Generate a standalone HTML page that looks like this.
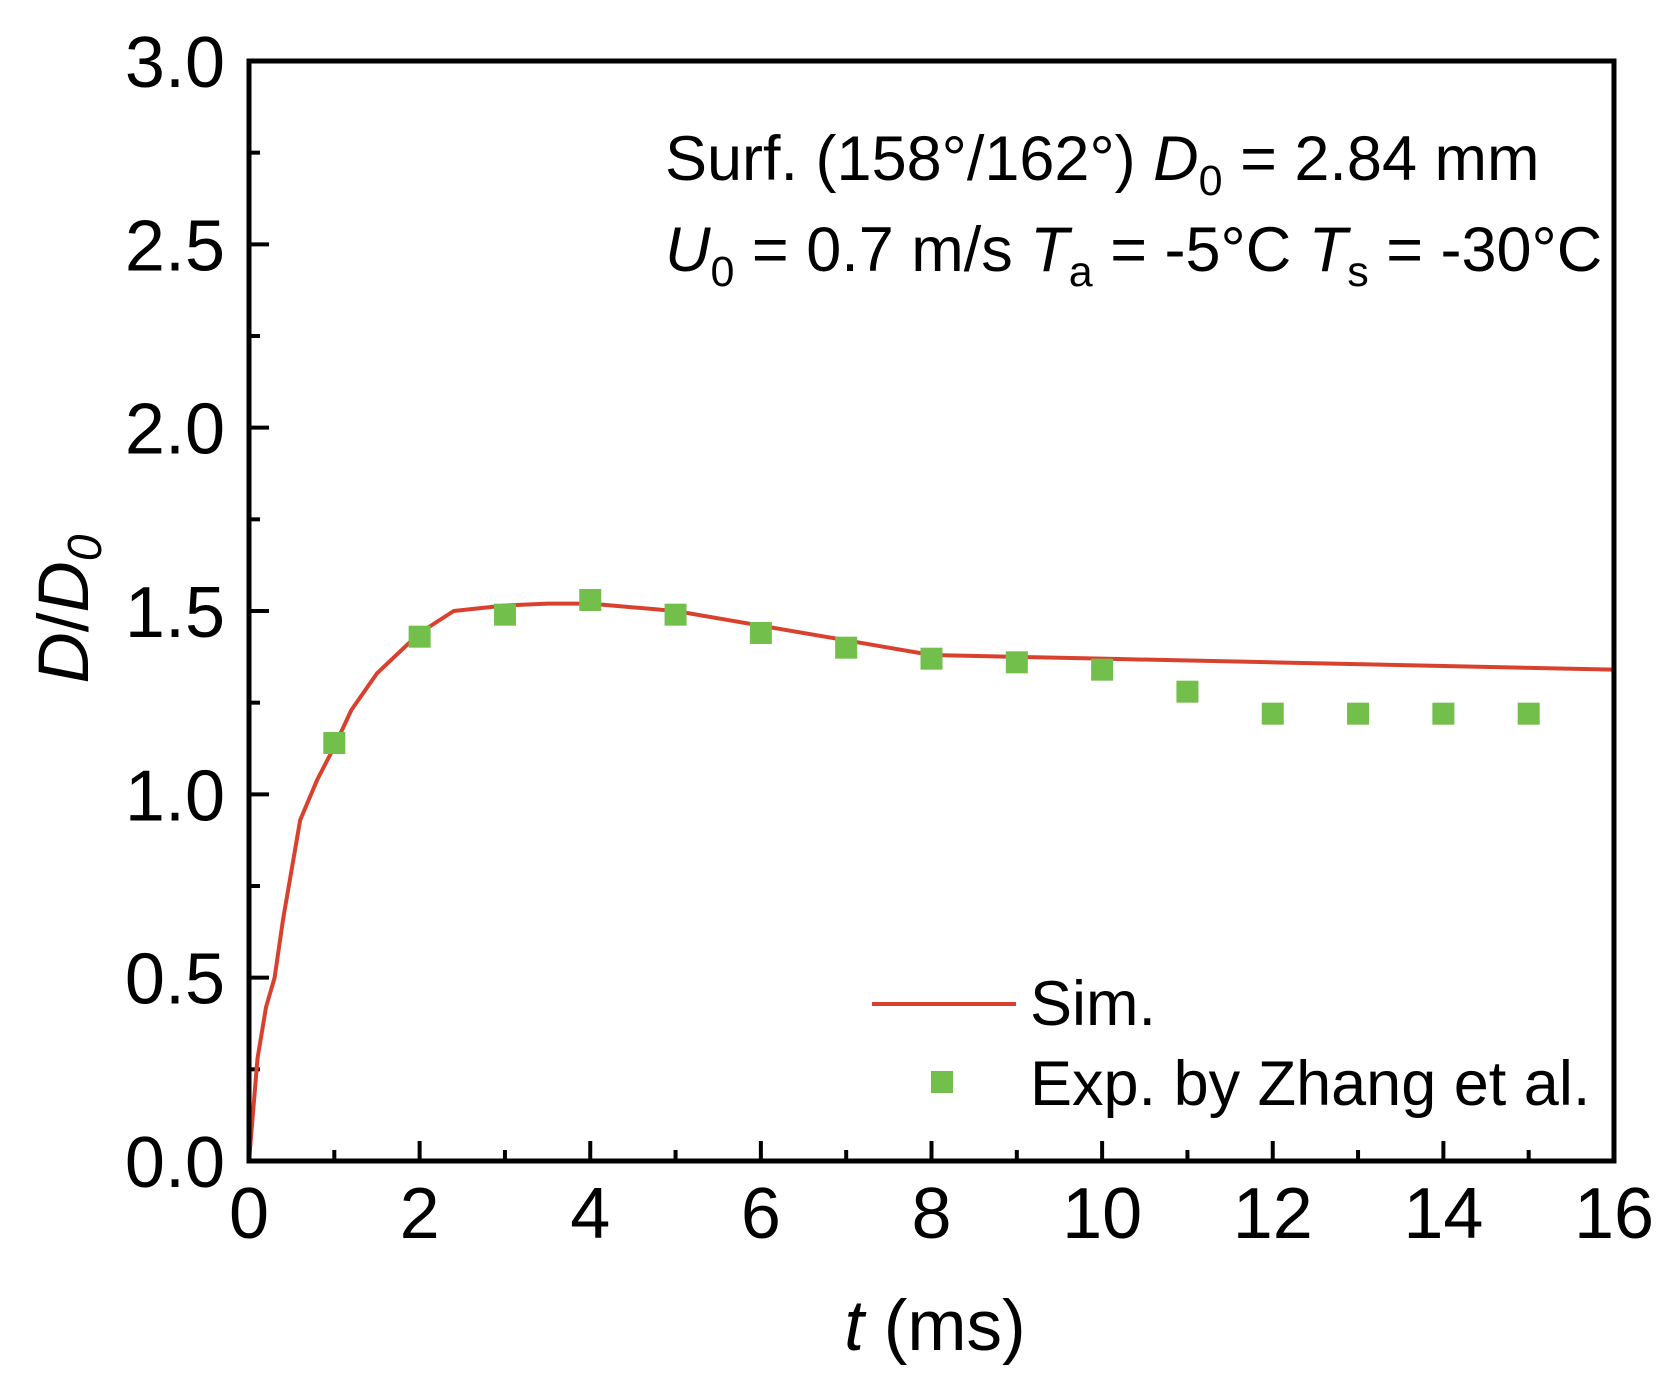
<!DOCTYPE html>
<html><head><meta charset="utf-8"><style>
body{margin:0;background:#fff}
svg{display:block;font-family:"Liberation Sans",Arial,sans-serif}
</style></head><body>
<svg id="chart" width="1666" height="1389" viewBox="0 0 1666 1389"></svg>
<script>
const simT=[0,0.1,0.2,0.3,0.4,0.6,0.8,1.0,1.2,1.5,2,2.4,3,3.5,4,5,6,7,7.5,8,9,10,12,14,16];
const simV=[0,0.28,0.42,0.5,0.66,0.93,1.04,1.13,1.23,1.33,1.44,1.50,1.515,1.52,1.52,1.50,1.46,1.42,1.40,1.38,1.375,1.37,1.36,1.35,1.34];
const expT=[1,2,3,4,5,6,7,8,9,10,11,12,13,14,15];
const expV=[1.14,1.43,1.49,1.53,1.49,1.44,1.40,1.37,1.36,1.34,1.28,1.22,1.22,1.22,1.22];
const xTicks=[0,2,4,6,8,10,12,14,16];
const yTicks=[0,0.5,1.0,1.5,2.0,2.5,3.0];
const X0=249,X1=1614,Y0=1161,Y1=61;
const sx=t=>X0+(t/16)*(X1-X0);
const sy=v=>Y0-(v/3)*(Y0-Y1);
const svg=document.getElementById('chart');
const NS='http://www.w3.org/2000/svg';
function mk(tag,attrs,parent){const e=document.createElementNS(NS,tag);for(const k in attrs)e.setAttribute(k,attrs[k]);(parent||svg).appendChild(e);return e;}
for(let t=0;t<=16;t++){const major=t%2===0;const e=mk('line',{x1:sx(t),x2:sx(t),y1:Y0,y2:Y0-(major?20:11),stroke:'#000','stroke-width':4});

}
for(let i=0;i<=12;i++){const v=i*0.25;const major=i%2===0;const e=mk('line',{x1:X0,x2:X0+(major?20:11),y1:sy(v),y2:sy(v),stroke:'#000','stroke-width':4});

}
xTicks.forEach(t=>{const e=mk('text',{x:sx(t),y:1238,'font-size':72,'text-anchor':'middle'});e.textContent=String(t);

});
yTicks.forEach(v=>{const e=mk('text',{x:225,y:sy(v)+26,'font-size':72,'text-anchor':'end'});e.textContent=v.toFixed(1);

});
const sim=mk('polyline',{points:simT.map((t,i)=>sx(t)+','+sy(simV[i])).join(' '),fill:'none',stroke:'#d9412f','stroke-width':4,'stroke-linejoin':'round'});


expT.forEach((t,i)=>{const r=mk('rect',{x:sx(t)-11,y:sy(expV[i])-11,width:22,height:22,fill:'#72bf4c'});

});
const fr=mk('rect',{x:X0,y:Y1,width:X1-X0,height:Y0-Y1,fill:'none',stroke:'#000','stroke-width':5});


</script>
<svg style="position:absolute;left:0;top:0" width="1666" height="1389">
<g font-family="Liberation Sans, Arial, sans-serif" fill="#000">
<text x="665" y="180" font-size="63">Surf. (158°/162°) <tspan font-style="italic">D</tspan><tspan font-size="43" dy="15">0</tspan><tspan dy="-15"> = 2.84 mm</tspan></text>
<text x="665" y="271" font-size="63"><tspan font-style="italic">U</tspan><tspan font-size="43" dy="15">0</tspan><tspan dy="-15"> = 0.7 m/s </tspan><tspan font-style="italic">T</tspan><tspan font-size="43" dy="15">a</tspan><tspan dy="-15"> = -5°C </tspan><tspan font-style="italic">T</tspan><tspan font-size="43" dy="15">s</tspan><tspan dy="-15"> = -30°C</tspan></text>
<line x1="872" y1="1004" x2="1016" y2="1004" stroke="#d9412f" stroke-width="4"/>
<text x="1030" y="1025" font-size="63">Sim.</text>
<rect x="931" y="1071" width="22" height="22" fill="#72bf4c"/>
<text x="1030" y="1105" font-size="63">Exp. by Zhang et al.</text>
<text x="935" y="1350" font-size="71" text-anchor="middle"><tspan font-style="italic">t</tspan> (ms)</text>
<text transform="translate(88,609) rotate(-90)" font-size="71" text-anchor="middle"><tspan font-style="italic">D</tspan>/<tspan font-style="italic">D</tspan><tspan font-size="48" font-style="italic" dy="13">0</tspan></text>
</g></svg>
</body></html>
